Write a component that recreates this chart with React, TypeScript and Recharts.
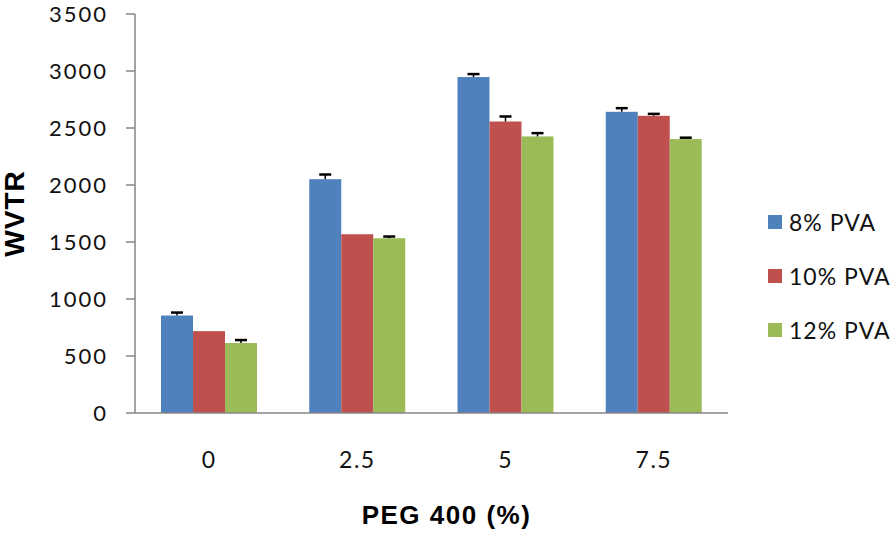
import React from 'react';
import { BarChart, Bar, XAxis, YAxis, Legend } from 'recharts';

const categories = ['0', '2.5', '5', '7.5'];
const seriesNames = ['8% PVA', '10% PVA', '12% PVA'];
const seriesColors = ['#4F81BD', '#C0504D', '#9BBB59'];
const pva8 = [855, 2051, 2947, 2642];
const pva10 = [718, 1568, 2557, 2607];
const pva12 = [614, 1533, 2426, 2403];
const err8 = [26, 41, 26, 32];
const err10 = [0, 0, 44, 17];
const err12 = [26, 15, 29, 12];
const yTicks = [0, 500, 1000, 1500, 2000, 2500, 3000, 3500];
const boundaryTicks = [0, 1, 2, 3, 4];

const data = categories.map((c, i) => ({
  name: c,
  s0: pva8[i],
  s1: pva10[i],
  s2: pva12[i],
  e0: err8[i],
  e1: err10[i],
  e2: err12[i],
}));

const FONT = 'Lato, "Open Sans", sans-serif';
const AXIS = '#868686';

const makeShape = (key: string, errKey: string, fill: string) => (props: any) => {
  const { x, y, width, height, payload } = props;
  const val = payload[key];
  const err = payload[errKey];
  const errPx = val ? (err * height) / val : 0;
  const cx = x + width / 2;
  return (
    <g>
      <rect x={x} y={y} width={width} height={height} fill={fill} />
      {err > 0 && (
        <g stroke="#000" strokeWidth={2.5}>
          <line x1={cx} y1={y} x2={cx} y2={y - errPx} strokeWidth={1.5} />
          <line x1={cx - 6} y1={y - errPx} x2={cx + 6} y2={y - errPx} />
        </g>
      )}
    </g>
  );
};

const LegendContent = () => (
  <div style={{ fontFamily: FONT, fontSize: 23, letterSpacing: 1, color: '#111' }}>
    {seriesNames.map((n, i) => (
      <div key={n} style={{ height: 54, display: 'flex', alignItems: 'center' }}>
        <span
          style={{
            display: 'inline-block',
            width: 14,
            height: 14,
            background: seriesColors[i],
            marginRight: 7,
          }}
        />
        <span>{n}</span>
      </div>
    ))}
  </div>
);

const YLabel = (props: any) => {
  const vb = props.viewBox || {};
  const cx = 14;
  const cy = (vb.y || 0) + (vb.height || 0) / 2;
  return (
    <text
      x={cx}
      y={cy}
      transform={`rotate(-90 ${cx} ${cy})`}
      textAnchor="middle"
      dominantBaseline="central"
      style={{ fontFamily: '"Liberation Sans", Arial, sans-serif', fontWeight: 700, fontSize: 28, letterSpacing: 1 }}
      fill="#000"
    >
      WVTR
    </text>
  );
};

export default function App() {
  return (
    <div style={{ position: 'absolute', left: 0, top: 0, width: 896, height: 536, background: '#fff' }}>
      <BarChart
        width={896}
        height={536}
        data={data}
        margin={{ top: 14, right: 40, left: 0, bottom: 10 }}
        barGap={0}
        barSize={32}
      >
        <XAxis
          dataKey="name"
          tickLine={false}
          axisLine={{ stroke: AXIS, strokeWidth: 1.5 }}
          tick={{ fontFamily: FONT, fontSize: 23, fill: '#111', letterSpacing: 1.5 } as any}
          tickMargin={33}
          height={113}
          label={{
            value: 'PEG 400 (%)',
            position: 'insideBottom',
            offset: 2,
            dx: 15,
            style: { fontFamily: '"Liberation Sans", Arial, sans-serif', fontWeight: 700, fontSize: 26, letterSpacing: 1.5, fill: '#000' },
          } as any}
        />
        <XAxis
          xAxisId="b"
          type="number"
          domain={[0, 4]}
          ticks={boundaryTicks}
          tick={false}
          tickSize={10}
          tickLine={{ stroke: AXIS, strokeWidth: 1.5 }}
          axisLine={false}
          height={0}
        />
        <YAxis
          domain={[0, 3500]}
          ticks={yTicks}
          width={135}
          tickSize={9}
          tickMargin={18}
          tickLine={{ stroke: AXIS, strokeWidth: 1.5 }}
          axisLine={{ stroke: AXIS, strokeWidth: 1.5 }}
          tick={{ fontFamily: FONT, fontSize: 22, fill: '#111', letterSpacing: 2 } as any}
          label={{ content: YLabel } as any}
        />
        <Legend
          layout="horizontal"
          verticalAlign="middle"
          align="right"
          wrapperStyle={{ left: 768, top: 195, width: 128 }}
          content={LegendContent}
        />
        <Bar dataKey="s0" name={seriesNames[0]} fill={seriesColors[0]} isAnimationActive={false} shape={makeShape('s0', 'e0', seriesColors[0])} />
        <Bar dataKey="s1" name={seriesNames[1]} fill={seriesColors[1]} isAnimationActive={false} shape={makeShape('s1', 'e1', seriesColors[1])} />
        <Bar dataKey="s2" name={seriesNames[2]} fill={seriesColors[2]} isAnimationActive={false} shape={makeShape('s2', 'e2', seriesColors[2])} />
      </BarChart>
    </div>
  );
}
